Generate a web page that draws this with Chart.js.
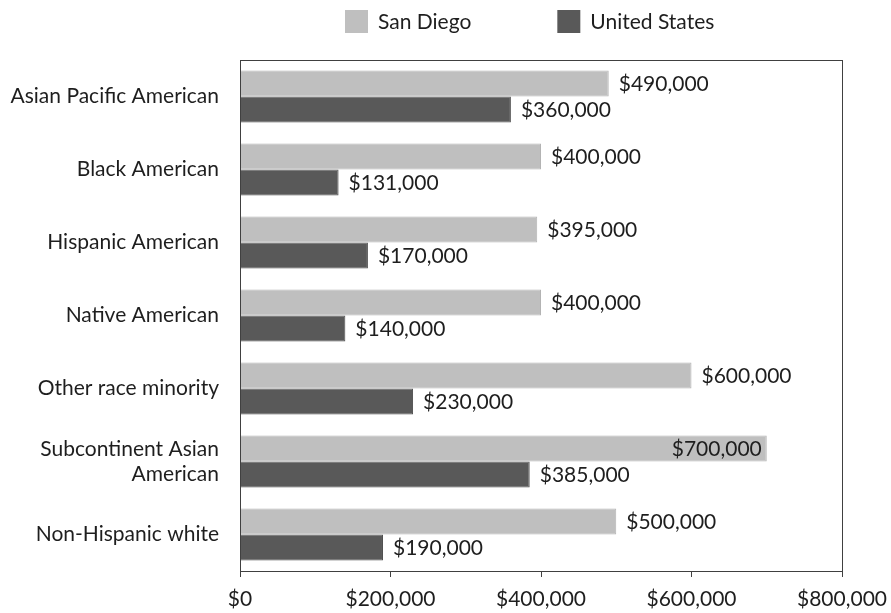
<!DOCTYPE html>
<html>
<head>
<meta charset="utf-8">
<script src="https://cdn.jsdelivr.net/npm/chart.js@4/dist/chart.umd.min.js"></script>
<style>
  html, body { margin: 0; padding: 0; background: #fff; }
  #wrap { width: 891px; height: 613px; position: relative; }
</style>
</head>
<body>
<div id="wrap"><canvas id="chart"></canvas></div>
<script>
const categories = [
  "Asian Pacific American",
  "Black American",
  "Hispanic American",
  "Native American",
  "Other race minority",
  ["Subcontinent Asian", "American"],
  "Non-Hispanic white"
];
const sanDiego = [490000, 400000, 395000, 400000, 600000, 700000, 500000];
const unitedStates = [360000, 131000, 170000, 140000, 230000, 385000, 190000];
const xTicks = [0, 200000, 400000, 600000, 800000];

const FONT = "Lato, 'Open Sans', sans-serif";
const TEXT = "#1e1e1e";

function money(v) {
  return "$" + v.toLocaleString("en-US");
}

// frame round the plot area
const boxPlugin = {
  id: "boxPlugin",
  afterDatasetsDraw(chart) {
    const { ctx, chartArea } = chart;
    ctx.save();
    ctx.strokeStyle = "#404040";
    ctx.lineWidth = 1;
    ctx.strokeRect(chartArea.left + 0.5, chartArea.top + 0.5,
      chartArea.right - chartArea.left, chartArea.bottom - chartArea.top);
    ctx.restore();
  }
};

// value labels at the end of each bar
const labelPlugin = {
  id: "labelPlugin",
  afterDatasetsDraw(chart) {
    const { ctx, chartArea } = chart;
    ctx.save();
    ctx.font = "21px " + FONT;
    ctx.fillStyle = TEXT;
    ctx.textBaseline = "middle";
    chart.data.datasets.forEach((ds, i) => {
      const meta = chart.getDatasetMeta(i);
      meta.data.forEach((bar, j) => {
        const text = money(ds.data[j]);
        const w = ctx.measureText(text).width;
        if (bar.x + 10 + w > chartArea.right) {
          ctx.textAlign = "right";
          ctx.fillText(text, bar.x - 5, bar.y + 1);
        } else {
          ctx.textAlign = "left";
          ctx.fillText(text, bar.x + 10, bar.y + 1);
        }
      });
    });
    ctx.restore();
  }
};

// legend row above the plot
const legendPlugin = {
  id: "legendPlugin",
  afterDraw(chart) {
    const { ctx, chartArea } = chart;
    ctx.save();
    ctx.font = "21px " + FONT;
    ctx.fillStyle = TEXT;
    ctx.textBaseline = "middle";
    ctx.textAlign = "left";
    let x = chartArea.left + 105;
    const y = 10;
    chart.data.datasets.forEach(ds => {
      ctx.fillStyle = ds.backgroundColor;
      ctx.fillRect(x, y, 23, 23);
      ctx.fillStyle = TEXT;
      ctx.fillText(ds.label, x + 33, y + 12);
      x += 33 + ctx.measureText(ds.label).width + 86;
    });
    ctx.restore();
  }
};

new Chart(document.getElementById("chart"), {
  type: "bar",
  data: {
    labels: categories,
    datasets: [
      {
        label: "San Diego",
        data: sanDiego,
        backgroundColor: "#bfbfbf",
        borderColor: "#b3b3b3",
        borderWidth: 1,
        categoryPercentage: 0.712,
        barPercentage: 1
      },
      {
        label: "United States",
        data: unitedStates,
        backgroundColor: "#595959",
        borderColor: "#4d4d4d",
        borderWidth: 1,
        categoryPercentage: 0.712,
        barPercentage: 1
      }
    ]
  },
  options: {
    indexAxis: "y",
    responsive: true,
    maintainAspectRatio: false,
    animation: false,
    layout: { padding: { left: 0, right: 49, top: 60, bottom: 0 } },
    plugins: {
      legend: { display: false },
      tooltip: { enabled: false }
    },
    scales: {
      x: {
        min: 0,
        max: 800000,
        afterBuildTicks(axis) {
          axis.ticks = xTicks.map(v => ({ value: v }));
        },
        afterFit(axis) {
          axis.height = 42;
          axis.paddingRight = 0;
          axis.paddingLeft = 0;
        },
        ticks: {
          color: TEXT,
          font: { family: FONT, size: 21 },
          padding: 10,
          maxRotation: 0,
          callback: v => money(v)
        },
        grid: { drawOnChartArea: false, drawTicks: true, tickLength: 6, color: "#404040" },
        border: { display: true, color: "#404040" }
      },
      y: {
        afterFit(axis) {
          axis.width = 240;
        },
        ticks: {
          color: TEXT,
          font: { family: FONT, size: 21 },
          padding: 13
        },
        grid: { display: false },
        border: { display: true, color: "#404040" }
      }
    }
  },
  plugins: [boxPlugin, labelPlugin, legendPlugin]
});
</script>
</body>
</html>
